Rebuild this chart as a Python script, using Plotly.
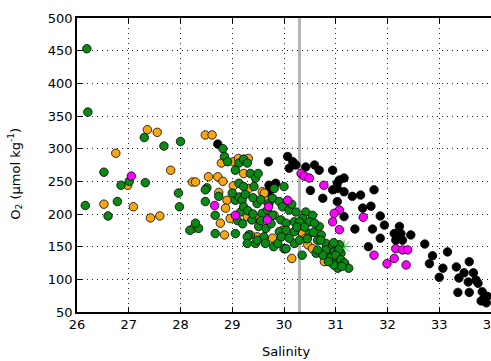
import plotly.graph_objects as go

# Salinity / dissolved oxygen pairs, grouped by sample set
green_sal = [26.19, 26.21, 26.52, 26.16, 26.78, 26.60, 26.85, 27.01, 27.32, 27.30, 27.68, 28.00,
             27.96, 27.98, 28.18, 28.82, 28.85, 28.91, 29.13, 29.22, 29.29, 29.06, 29.35, 29.45,
             29.50, 28.51, 28.48, 29.13, 29.22, 29.42, 28.74, 29.06, 29.13, 29.19, 28.48, 28.67,
             29.16, 29.22, 29.38, 29.58, 29.51, 29.71, 29.48, 29.68, 28.35, 28.29, 28.67, 29.06,
             29.32, 29.29, 29.61, 29.29, 29.45, 29.64, 29.48, 29.80, 30.35, 30.00, 29.81, 30.00,
             29.78, 29.91, 29.97, 30.10, 30.23, 30.42, 30.55, 30.36, 29.78, 29.94, 30.04, 30.20,
             30.30, 30.49, 30.68, 30.59, 29.91, 30.04, 30.20, 30.49, 30.72, 29.88, 30.04, 30.20,
             30.65, 30.81, 30.94, 31.07, 30.62, 30.81, 30.97, 31.10, 30.57, 30.71, 30.81, 30.90,
             31.00, 31.04, 30.96, 30.86, 30.75, 30.65, 30.96, 31.06, 31.00, 31.10, 31.17,
             31.25, 31.12, 29.00, 29.25, 29.40, 29.55, 29.30, 29.40, 29.10, 29.20, 29.55, 29.65,
             29.75, 30.15, 30.25, 30.40, 29.95, 30.10, 30.30, 30.45]
green_o2 = [453, 356, 264, 213, 219, 197, 244, 250, 248, 317, 304, 311,
            232, 211, 175, 300, 288, 280, 278, 284, 278, 267, 262, 255,
            262, 240, 237, 247, 242, 242, 227, 221, 226, 221, 219, 198,
            203, 211, 191, 201, 181, 216, 216, 206, 178, 186, 170, 170,
            168, 165, 165, 155, 155, 155, 160, 150, 137, 147, 239, 242,
            224, 219, 211, 206, 203, 203, 198, 193, 198, 191, 186, 188,
            188, 188, 181, 186, 173, 175, 173, 170, 168, 155, 147, 155,
            160, 155, 153, 153, 140, 140, 142, 140, 172, 160, 145, 133,
            127, 117, 122, 127, 137, 145, 156, 145, 137, 130, 125,
            117, 120, 232, 230, 225, 222, 205, 200, 190, 185, 190, 178,
            185, 215, 180, 180, 165, 163, 160, 162]

orange_sal = [26.75, 27.36, 27.55, 27.81, 28.23, 26.52, 26.98, 27.09, 27.42, 27.60, 28.48, 28.61,
              28.79, 29.02, 29.12, 29.31, 29.22, 28.29, 28.54, 28.72, 28.82, 29.02, 29.32, 28.74,
              28.90, 29.58, 29.64, 28.87, 28.96, 29.29, 28.77, 28.85, 29.48, 29.48, 28.25, 29.35,
              29.62, 29.81, 29.78, 29.97, 30.30, 30.36, 30.46, 30.55, 30.15, 30.78, 30.42]
orange_o2 = [293, 329, 325, 267, 249, 215, 244, 211, 194, 197, 321, 321,
             278, 280, 285, 285, 262, 249, 257, 257, 250, 243, 239, 233,
             221, 234, 221, 209, 193, 196, 186, 168, 165, 193, 178, 168,
             232, 198, 163, 175, 175, 170, 153, 147, 132, 127, 163]

magenta_sal = [27.05, 28.66, 29.06, 29.70, 29.68, 30.07, 30.33, 30.39, 30.49, 30.77, 30.94, 31.07,
               31.07, 30.97, 31.53, 32.16, 32.29, 32.39, 31.74, 32.13, 31.99, 32.36]
magenta_o2 = [258, 213, 198, 211, 191, 221, 262, 258, 255, 244, 188, 176,
              206, 201, 195, 147, 145, 145, 137, 132, 124, 122]

black_sal = [28.72, 29.70, 30.07, 30.17, 30.23, 30.10, 30.42, 30.59, 30.68, 30.94, 30.51, 30.75,
             31.07, 29.71, 29.84, 29.71, 30.94, 31.03, 31.16, 31.03, 31.16, 31.03, 31.32, 31.48,
             31.74, 31.52, 31.68, 31.16, 31.86, 31.94, 31.37, 31.71, 31.86, 32.23, 32.13, 32.26,
             32.45, 32.16, 32.29, 31.63, 32.72, 33.16, 32.87, 32.81, 33.07, 33.00, 33.33, 33.58,
             33.48, 33.66, 33.38, 33.56, 33.71, 33.75, 33.36, 33.58, 33.83, 33.87, 33.91, 33.81,
             33.93]
black_o2 = [307, 280, 288, 280, 275, 270, 272, 275, 267, 267, 236, 224,
            252, 244, 247, 234, 237, 247, 255, 239, 234, 219, 227, 229,
            237, 209, 212, 196, 197, 183, 177, 177, 163, 181, 170, 170,
            168, 160, 160, 150, 154, 142, 136, 124, 117, 103, 119, 127,
            110, 110, 102, 96, 99, 94, 80, 80, 81, 71, 64, 67,
            74]

flag_sal = [31.16]
flag_o2 = [150]

ref_salinity = 30.3

x_ticks = [26, 27, 28, 29, 30, 31, 32, 33, 34]
y_ticks = [50, 100, 150, 200, 250, 300, 350, 400, 450, 500]

FONT = "DejaVu Sans"

fig = go.Figure()


def add_set(sal, o2, color):
    fig.add_trace(go.Scatter(
        x=sal, y=o2, mode="markers",
        marker=dict(size=8.5, color=color, line=dict(color="black", width=0.8)),
        showlegend=False,
    ))


add_set(black_sal, black_o2, "black")
add_set(orange_sal, orange_o2, "#f5a612")
add_set(green_sal, green_o2, "#0a8a14")
add_set(magenta_sal, magenta_o2, "#ff00ff")

fig.add_trace(go.Scatter(
    x=flag_sal, y=flag_o2, mode="markers",
    marker=dict(size=12, symbol="asterisk-open", color="#0a8a14", line=dict(color="#0a8a14", width=0.7)),
    showlegend=False,
))

fig.add_shape(type="line", xref="x", yref="paper", x0=ref_salinity, x1=ref_salinity, y0=0, y1=1,
              line=dict(color="#b4b4b4", width=3), layer="below")

axis_common = dict(
    showline=True, linecolor="black", linewidth=1.6,
    ticks="inside", ticklen=5, tickwidth=1, tickcolor="black",
    showgrid=True, gridcolor="#222222", gridwidth=1, griddash="1px,4px",
    zeroline=False, automargin=False, ticklabeloverflow="allow",
    tickfont=dict(family=FONT, size=13, color="black"),
)

fig.update_xaxes(range=[26, 34], tickvals=x_ticks, ticktext=[str(v) for v in x_ticks],
                 mirror="ticks", **axis_common)
fig.update_yaxes(range=[50, 500], tickvals=y_ticks, ticktext=[str(v) for v in y_ticks],
                 mirror=False, **axis_common)

fig.add_annotation(text="Salinity", xref="paper", yref="paper", x=0.506, y=-0.136,
                   xanchor="center", yanchor="middle", showarrow=False,
                   font=dict(family=FONT, size=13, color="black"))
fig.add_annotation(text="O<sub>2</sub> (µmol kg<sup>-1</sup>)", xref="paper", yref="paper",
                   x=-0.15, y=0.47, xanchor="center", yanchor="middle", textangle=-90,
                   showarrow=False, font=dict(family=FONT, size=13, color="black"))

fig.update_layout(
    width=491, height=361,
    margin=dict(l=77, r=0, t=18, b=49),
    paper_bgcolor="white", plot_bgcolor="white",
    font=dict(family=FONT, size=13, color="black"),
)

fig.write_html("out.html")
